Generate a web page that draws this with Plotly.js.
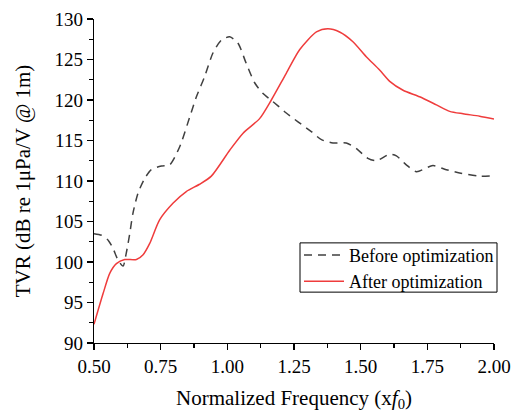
<!DOCTYPE html>
<html>
<head>
<meta charset="utf-8">
<script src="https://cdn.plot.ly/plotly-3.0.1.min.js"></script>
<style>html,body{margin:0;padding:0;background:#fff;}#chart{width:514px;height:412px;}</style>
</head>
<body>
<div id="chart"></div>
<script>
var seriesNames = ["Before optimization", "After optimization"];

var beforeX = [0.5,0.528,0.553,0.571,0.59,0.609,0.621,0.634,0.646,0.665,0.69,0.715,0.753,0.784,0.821,0.859,0.884,0.915,0.946,0.978,1.009,1.04,1.071,1.103,1.134,1.171,1.221,1.265,1.315,1.353,1.396,1.446,1.484,1.527,1.559,1.609,1.634,1.671,1.709,1.771,1.821,1.871,1.946,2.0];
var beforeY = [103.5,103.3,102.7,101.7,100.25,99.5,101.1,103.5,106.0,108.5,110.3,111.4,111.85,112.0,114.2,117.9,120.4,122.9,125.8,127.4,127.8,127.0,124.5,122.1,120.8,119.8,118.4,117.3,116.1,115.1,114.7,114.7,114.0,112.8,112.5,113.3,113.1,112.0,111.15,111.9,111.4,111.0,110.6,110.65];

var afterX = [0.5,0.534,0.559,0.584,0.615,0.659,0.684,0.709,0.746,0.796,0.846,0.896,0.94,1.009,1.059,1.121,1.165,1.221,1.271,1.334,1.377,1.421,1.471,1.521,1.571,1.609,1.659,1.721,1.784,1.834,1.884,1.946,2.0];
var afterY = [92.3,96.1,98.6,99.8,100.3,100.3,100.9,102.3,105.2,107.25,108.7,109.6,110.6,113.8,115.9,117.7,120.0,123.3,126.2,128.4,128.8,128.4,127.2,125.35,123.7,122.3,121.2,120.4,119.4,118.6,118.3,118.0,117.65];

var xTicks = [0.5,0.75,1.0,1.25,1.5,1.75,2.0];
var xTickText = ["0.50","0.75","1.00","1.25","1.50","1.75","2.00"];
var yTicks = [90,95,100,105,110,115,120,125,130];

var font = "Liberation Serif";

var traces = [
  {x: beforeX, y: beforeY, name: seriesNames[0], mode: "lines",
   line: {color: "#404040", width: 1.5, dash: "8px,6px", shape: "spline", smoothing: 0.7}},
  {x: afterX, y: afterY, name: seriesNames[1], mode: "lines",
   line: {color: "#ef3c3c", width: 1.5, shape: "spline", smoothing: 0.7}}
];

var layout = {
  width: 514, height: 412,
  margin: {l: 94, r: 20, t: 19, b: 69},
  paper_bgcolor: "#fff", plot_bgcolor: "#fff",
  font: {family: font, size: 19, color: "#000"},
  showlegend: true,
  legend: {x: 0.5125, xanchor: "left", y: 0.328, yanchor: "top",
    borderwidth: 0, bgcolor: "rgba(0,0,0,0)",
    font: {family: font, size: 18, color: "#000"},
    tracegroupgap: 0, itemwidth: 40},
  shapes: [{type: "rect", xref: "paper", yref: "paper",
    x0: 0.515, x1: 1.0075, y0: 0.157, y1: 0.309,
    line: {color: "#000", width: 1}, fillcolor: "rgba(0,0,0,0)", layer: "above"}],
  xaxis: {range: [0.5, 2.0], tickvals: xTicks, ticktext: xTickText,
    showgrid: false, zeroline: false, showline: true, linecolor: "#000", linewidth: 1.3,
    ticks: "outside", ticklen: 6, tickwidth: 1.3, tickcolor: "#000",
    minor: {dtick: 0.125, ticks: "outside", ticklen: 4, tickwidth: 1.3, tickcolor: "#000", showgrid: false},
    tickfont: {family: font, size: 19, color: "#000"},
    title: {text: "Normalized Frequency (x<i>f</i><sub>0</sub>)", font: {family: font, size: 21, color: "#000"}, standoff: 16}},
  yaxis: {range: [90, 130], tickvals: yTicks,
    showgrid: false, zeroline: false, showline: true, linecolor: "#000", linewidth: 1.3,
    ticks: "outside", ticklen: 6, tickwidth: 1.3, tickcolor: "#000",
    minor: {dtick: 2.5, ticks: "outside", ticklen: 4, tickwidth: 1.3, tickcolor: "#000", showgrid: false},
    tickfont: {family: font, size: 19, color: "#000"},
    title: {text: "TVR (dB re 1μPa/V @ 1m)", font: {family: font, size: 21, color: "#000"}, standoff: 18}}
};

Plotly.newPlot("chart", traces, layout, {displayModeBar: false, staticPlot: true});
</script>
</body>
</html>
